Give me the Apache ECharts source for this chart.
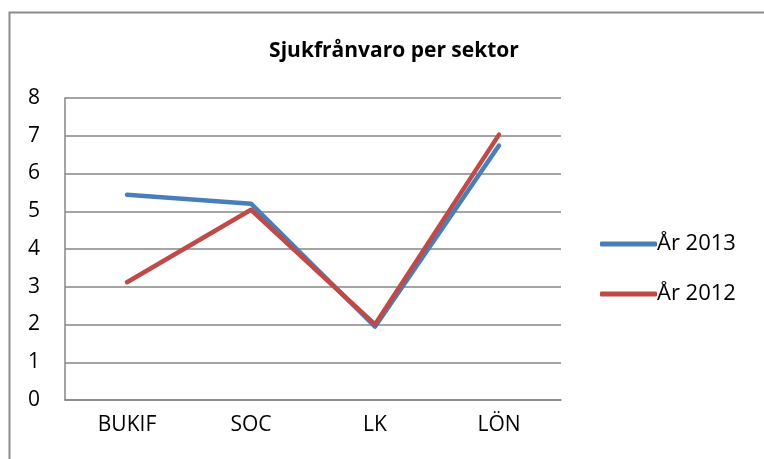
<!DOCTYPE html>
<html><head><meta charset="utf-8">
<script src="https://cdn.jsdelivr.net/npm/echarts@6/dist/echarts.min.js"></script>
<style>html,body{margin:0;padding:0;background:#fff}#c{width:764px;height:459px}</style>
</head><body><div id="c"></div>
<script>
const categories = ['BUKIF', 'SOC', 'LK', 'LÖN'];
const year2013 = [5.44, 5.2, 1.94, 6.74];
const year2012 = [3.12, 5.04, 2.0, 7.03];
const yTicks = [0, 1, 2, 3, 4, 5, 6, 7, 8];
const seriesNames = ['År 2013', 'År 2012'];

const font = '"Open Sans", "Noto Sans", sans-serif';
const chart = echarts.init(document.getElementById('c'));
chart.setOption({
  animation: false,
  backgroundColor: '#fff',
  graphic: [{
    type: 'rect', shape: {x: 9.5, y: 12.5, width: 900, height: 600},
    style: {fill: 'none', stroke: '#8c8c8c', lineWidth: 2}, silent: true
  }],
  title: {
    text: 'Sjukfrånvaro per sektor', left: 389, top: 36, textAlign: 'center',
    textStyle: {fontFamily: font, fontSize: 21, fontWeight: 'bold', color: '#000'}
  },
  legend: {
    orient: 'vertical', left: 595, top: 228, itemGap: 28,
    itemWidth: 57, itemHeight: 5, icon: 'roundRect', itemStyle: {borderWidth: 0},
    textStyle: {fontFamily: font, fontSize: 22, color: '#000', padding: [0, 0, 0, -5]},
    data: seriesNames
  },
  grid: {left: 65, right: 203, top: 98, bottom: 59, containLabel: false},
  xAxis: {
    type: 'category', data: categories, boundaryGap: true,
    axisLine: {lineStyle: {color: '#868686', width: 1.5}},
    axisTick: {show: false},
    axisLabel: {fontFamily: font, fontSize: 21, color: '#000', margin: 15}
  },
  yAxis: {
    type: 'value', min: yTicks[0], max: yTicks[yTicks.length - 1], interval: 1,
    axisLine: {show: true, lineStyle: {color: '#868686', width: 1.5}},
    axisTick: {show: false},
    splitLine: {lineStyle: {color: '#868686', width: 1.5}},
    axisLabel: {fontFamily: font, fontSize: 21, color: '#000', margin: 25, align: 'right'}
  },
  series: [
    {name: seriesNames[0], type: 'line', data: year2013, symbol: 'none',
     lineStyle: {color: '#4A7EBB', width: 4.5, cap: 'round', join: 'round'}, itemStyle: {color: '#4A7EBB'}},
    {name: seriesNames[1], type: 'line', data: year2012, symbol: 'none',
     lineStyle: {color: '#BE4B48', width: 4.5, cap: 'round', join: 'round'}, itemStyle: {color: '#BE4B48'}}
  ]
});
</script></body></html>
